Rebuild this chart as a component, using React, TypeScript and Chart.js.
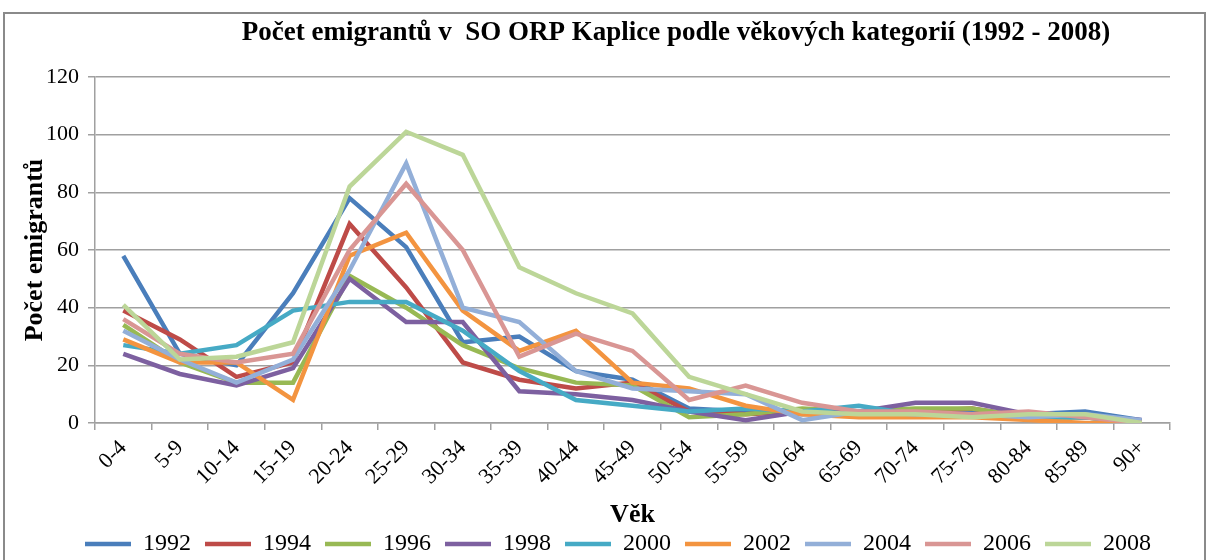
import React, { useEffect, useRef } from "react";
import { Chart, registerables } from "chart.js";

Chart.register(...registerables);

const categories = ["0-4", "5-9", "10-14", "15-19", "20-24", "25-29", "30-34", "35-39", "40-44", "45-49", "50-54", "55-59", "60-64", "65-69", "70-74", "75-79", "80-84", "85-89", "90+"];

const years = ["1992", "1994", "1996", "1998", "2000", "2002", "2004", "2006", "2008"];

const y1992 = [58, 24, 20, 45, 78, 61, 28, 30, 18, 15, 5, 4, 3, 4, 4, 4, 3, 4, 1];
const y1994 = [39, 29, 16, 21, 69, 47, 21, 15, 12, 14, 4, 3, 4, 4, 4, 5, 2, 2, 0];
const y1996 = [34, 21, 14, 14, 51, 40, 27, 19, 14, 13, 2, 3, 5, 4, 5, 5, 2, 2, 0];
const y1998 = [24, 17, 13, 19, 50, 35, 35, 11, 10, 8, 4, 1, 4, 4, 7, 7, 3, 2, 1];
const y2000 = [27, 24, 27, 39, 42, 42, 32, 18, 8, 6, 4, 5, 4, 6, 3, 3, 2, 2, 0];
const y2002 = [29, 21, 21, 8, 58, 66, 39, 25, 32, 14, 12, 6, 3, 2, 2, 2, 1, 0, 0];
const y2004 = [32, 22, 14, 22, 53, 90, 40, 35, 18, 12, 11, 10, 1, 4, 3, 3, 2, 3, 1];
const y2006 = [36, 24, 21, 24, 60, 83, 60, 23, 31, 25, 8, 13, 7, 4, 4, 3, 4, 2, 0];
const y2008 = [41, 22, 23, 28, 82, 101, 93, 54, 45, 38, 16, 10, 4, 3, 3, 2, 3, 3, 0];

const seriesValues = [y1992, y1994, y1996, y1998, y2000, y2002, y2004, y2006, y2008];

const colors = ["#4A7EBB", "#BE4B48", "#98B954", "#7D60A0", "#46AAC5", "#F39440", "#93AFD8", "#D99694", "#BCD698"];

const yTicks = [0, 20, 40, 60, 80, 100, 120];

const FONT = "'Liberation Serif', 'Times New Roman', serif";
const GRID = "#a0a0a0";

export default function App() {
  const ref = useRef<HTMLCanvasElement | null>(null);

  useEffect(() => {
    if (!ref.current) return;
    const shiftPlugin = {
      id: "shiftBlocks",
      afterLayout(chart: any) {
        const t = chart.titleBlock;
        if (t) {
          const dx = 676 - (t.left + t.right) / 2;
          t.left += dx;
          t.right += dx;
        }
        const l = chart.legend;
        if (l) {
          const dx = 618 - (l.left + l.right) / 2;
          l.left += dx;
          l.right += dx;
        }
      },
    };

    const chart = new Chart(ref.current, {
      type: "line",
      data: {
        labels: categories,
        datasets: years.map((y, i) => ({
          label: y,
          data: seriesValues[i],
          borderColor: colors[i],
          backgroundColor: colors[i],
          borderWidth: 4.5,
          pointRadius: 0,
          pointHoverRadius: 0,
          tension: 0,
          fill: false,
          order: -i,
        })),
      },
      options: {
        responsive: false,
        animation: false,
        devicePixelRatio: 1,
        layout: { padding: { left: 0, right: 38, top: 0, bottom: 0 } },
        plugins: {
          tooltip: { enabled: false },
          title: {
            display: true,
            text: "Počet emigrantů v  SO ORP Kaplice podle věkových kategorií (1992 - 2008)",
            color: "#000",
            font: { family: FONT, size: 27, weight: "bold" },
            padding: { top: 16.8, bottom: 27.8 },
          },
          legend: {
            display: true,
            position: "bottom",
            reverse: true,
            labels: {
              usePointStyle: true,
              pointStyle: "line",
              pointStyleWidth: 46,
              color: "#000",
              padding: 14,
              font: { family: FONT, size: 24 },
            },
          },
        },
        scales: {
          x: {
            type: "category",
            offset: true,
            afterFit: (s: any) => {
              s.height = 95;
            },
            grid: {
              display: true,
              offset: true,
              drawOnChartArea: false,
              drawTicks: true,
              tickLength: 7,
              color: GRID,
              lineWidth: 1.5,
            },
            border: { display: true, color: GRID, width: 1.5 },
            ticks: {
              color: "#000",
              font: { family: FONT, size: 22 },
              minRotation: 45,
              maxRotation: 45,
              autoSkip: false,
              padding: 5,
            },
            title: {
              display: true,
              text: "Věk",
              color: "#000",
              font: { family: FONT, size: 26, weight: "bold" },
              padding: { top: 0, bottom: -12.6 },
            },
          },
          y: {
            min: 0,
            max: 120,
            afterFit: (s: any) => {
              s.width = 95;
            },
            afterBuildTicks: (s: any) => {
              s.ticks = yTicks.map((v) => ({ value: v }));
            },
            grid: {
              color: GRID,
              lineWidth: 1.5,
              drawTicks: true,
              tickLength: 7,
            },
            border: { display: true, color: GRID, width: 1.5 },
            ticks: {
              color: "#000",
              font: { family: FONT, size: 22 },
              padding: 9,
            },
            title: {
              display: true,
              text: "Počet emigrantů",
              color: "#000",
              font: { family: FONT, size: 26, weight: "bold" },
              padding: { top: 19.4, bottom: 0 },
            },
          },
        },
      },
      plugins: [shiftPlugin],
    });
    return () => chart.destroy();
  }, []);

  return (
    <div style={{ position: "absolute", left: 0, top: 0, width: 1208, height: 566, background: "#fff", overflow: "hidden" }}>
      <div
        style={{
          position: "absolute",
          left: 3,
          top: 12,
          width: 1203,
          height: 600,
          border: "2px solid #8a8a8a",
          boxSizing: "border-box",
        }}
      />
      <canvas ref={ref} width={1208} height={566} style={{ position: "absolute", left: 0, top: 0, width: 1208, height: 566 }} />
    </div>
  );
}
